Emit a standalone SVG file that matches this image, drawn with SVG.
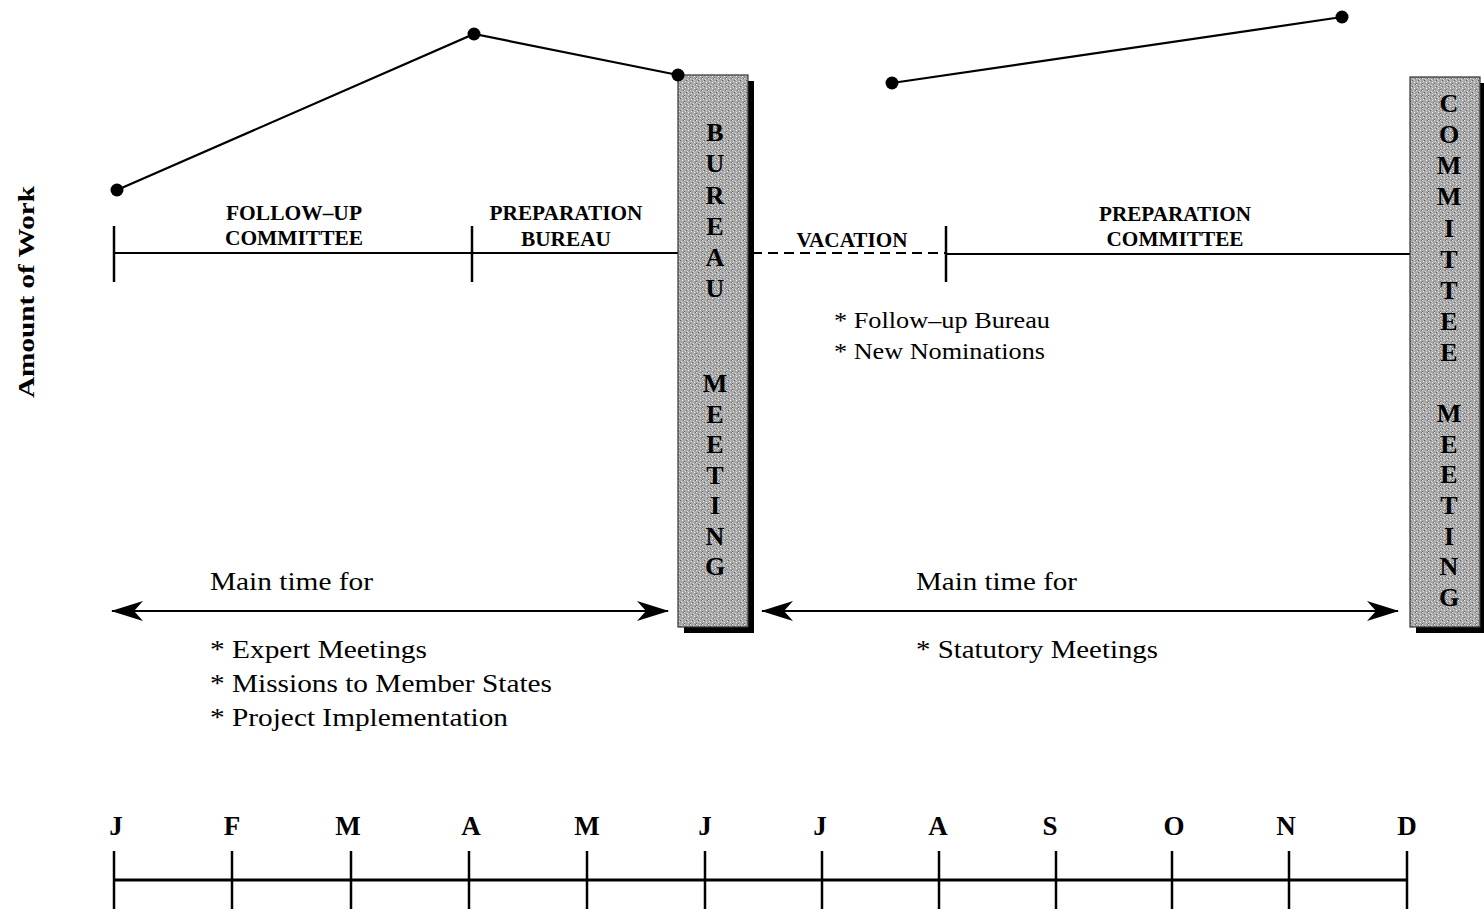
<svg xmlns="http://www.w3.org/2000/svg" width="1484" height="922" viewBox="0 0 1484 922">
<style>
.ln{stroke:#000;stroke-width:2.2;fill:none}
.tk{stroke:#000;stroke-width:2.5}
.dot{fill:#000}
.lab{font-family:"Liberation Serif","Times New Roman",serif;font-weight:bold;font-size:20px;fill:#000;text-anchor:middle}
.mon{font-family:"Liberation Serif","Times New Roman",serif;font-weight:bold;font-size:27px;fill:#000;text-anchor:middle}
.txt{font-family:"Liberation Serif","Times New Roman",serif;font-size:26px;fill:#000}
.vl{font-family:"Liberation Serif","Times New Roman",serif;font-weight:bold;font-size:26px;fill:#000;text-anchor:middle}
.box{fill:url(#stip);stroke:#333;stroke-width:1.2}
.shd{fill:#000}
</style>
<defs>
<pattern id="stip" width="6" height="6" patternUnits="userSpaceOnUse">
<rect width="6" height="6" fill="#a8a8a8"/>
<rect x="0" y="0" width="1" height="1" fill="#ececec"/>
<rect x="3" y="1" width="1" height="1" fill="#dcdcdc"/>
<rect x="1" y="3" width="1" height="1" fill="#e4e4e4"/>
<rect x="4" y="4" width="1" height="1" fill="#f2f2f2"/>
<rect x="2" y="2" width="1" height="1" fill="#606060"/>
<rect x="5" y="0" width="1" height="1" fill="#707070"/>
<rect x="0" y="5" width="1" height="1" fill="#6a6a6a"/>
<rect x="4" y="2" width="1" height="1" fill="#cccccc"/>
</pattern>
<marker id="ah" viewBox="0 0 32 20" refX="31" refY="10" markerWidth="32" markerHeight="20" orient="auto-start-reverse" markerUnits="userSpaceOnUse">
<path d="M0,0 L32,10 L0,20 L9,10 Z" fill="#000"/>
</marker>
</defs>

<g id="axis-label">
<text class="lab" transform="translate(34,292) rotate(-90)" textLength="212" lengthAdjust="spacingAndGlyphs" style="font-size:24px">Amount of Work</text>
</g>

<g id="connectors">
<polyline class="ln" points="117,190 474,34 678,75"/>
<line class="ln" x1="892" y1="83" x2="1342" y2="17"/>
<line class="ln" x1="114" y1="253" x2="678" y2="253"/>
<line class="ln" x1="752" y1="253" x2="946" y2="253" stroke-dasharray="10,6"/>
<line class="ln" x1="946" y1="254" x2="1410" y2="254"/>
<line class="tk" x1="114" y1="226" x2="114" y2="282"/>
<line class="tk" x1="472" y1="226" x2="472" y2="282"/>
<line class="tk" x1="946" y1="226" x2="946" y2="282"/>
<line class="ln" x1="112" y1="611" x2="668" y2="611" marker-start="url(#ah)" marker-end="url(#ah)"/>
<line class="ln" x1="762" y1="611" x2="1398" y2="611" marker-start="url(#ah)" marker-end="url(#ah)"/>
<line class="ln" x1="114" y1="880" x2="1407" y2="880" style="stroke-width:3"/>
<g class="tk">
<line x1="114" y1="851" x2="114" y2="909"/>
<line x1="232" y1="851" x2="232" y2="909"/>
<line x1="351" y1="851" x2="351" y2="909"/>
<line x1="469" y1="851" x2="469" y2="909"/>
<line x1="587" y1="851" x2="587" y2="909"/>
<line x1="705" y1="851" x2="705" y2="909"/>
<line x1="822" y1="851" x2="822" y2="909"/>
<line x1="939" y1="851" x2="939" y2="909"/>
<line x1="1056" y1="851" x2="1056" y2="909"/>
<line x1="1172" y1="851" x2="1172" y2="909"/>
<line x1="1289" y1="851" x2="1289" y2="909"/>
<line x1="1407" y1="851" x2="1407" y2="909"/>
</g>
</g>

<g id="phase-labels">
<text class="lab" x="294" y="220" textLength="136" lengthAdjust="spacingAndGlyphs">FOLLOW–UP</text>
<text class="lab" x="294" y="245" textLength="138" lengthAdjust="spacingAndGlyphs">COMMITTEE</text>
<text class="lab" x="566" y="220" textLength="153" lengthAdjust="spacingAndGlyphs">PREPARATION</text>
<text class="lab" x="566" y="246" textLength="90" lengthAdjust="spacingAndGlyphs">BUREAU</text>
<text class="lab" x="852" y="247" textLength="111" lengthAdjust="spacingAndGlyphs">VACATION</text>
<text class="lab" x="1175" y="221" textLength="152" lengthAdjust="spacingAndGlyphs">PREPARATION</text>
<text class="lab" x="1175" y="246" textLength="137" lengthAdjust="spacingAndGlyphs">COMMITTEE</text>
</g>

<g id="bureau-meeting">
<rect class="shd" x="748" y="81" width="6" height="552"/>
<rect class="shd" x="684" y="627" width="70" height="6"/>
<rect class="box" x="678" y="75" width="70" height="552"/>
<text class="vl" x="715" y="141">B</text>
<text class="vl" x="715" y="172">U</text>
<text class="vl" x="715" y="204">R</text>
<text class="vl" x="715" y="235">E</text>
<text class="vl" x="715" y="266">A</text>
<text class="vl" x="715" y="297">U</text>
<text class="vl" x="715" y="392">M</text>
<text class="vl" x="715" y="423">E</text>
<text class="vl" x="715" y="453">E</text>
<text class="vl" x="715" y="484">T</text>
<text class="vl" x="715" y="514">I</text>
<text class="vl" x="715" y="545">N</text>
<text class="vl" x="715" y="575">G</text>
</g>

<g id="committee-meeting">
<rect class="shd" x="1480" y="83" width="4" height="550"/>
<rect class="shd" x="1416" y="627" width="68" height="6"/>
<rect class="box" x="1410" y="77" width="70" height="550"/>
<text class="vl" x="1449" y="112">C</text>
<text class="vl" x="1449" y="143">O</text>
<text class="vl" x="1449" y="174">M</text>
<text class="vl" x="1449" y="205">M</text>
<text class="vl" x="1449" y="237">I</text>
<text class="vl" x="1449" y="268">T</text>
<text class="vl" x="1449" y="299">T</text>
<text class="vl" x="1449" y="330">E</text>
<text class="vl" x="1449" y="361">E</text>
<text class="vl" x="1449" y="422">M</text>
<text class="vl" x="1449" y="453">E</text>
<text class="vl" x="1449" y="483">E</text>
<text class="vl" x="1449" y="514">T</text>
<text class="vl" x="1449" y="545">I</text>
<text class="vl" x="1449" y="575">N</text>
<text class="vl" x="1449" y="606">G</text>
</g>

<g id="work-points">
<circle class="dot" cx="117" cy="190" r="6.5"/>
<circle class="dot" cx="474" cy="34" r="6.5"/>
<circle class="dot" cx="678" cy="75" r="6.5"/>
<circle class="dot" cx="892" cy="83" r="6.5"/>
<circle class="dot" cx="1342" cy="17" r="6.5"/>
</g>

<g id="notes-vacation">
<text class="txt" x="834" y="328" textLength="216" lengthAdjust="spacingAndGlyphs" style="font-size:24px">* Follow–up Bureau</text>
<text class="txt" x="834" y="359" textLength="211" lengthAdjust="spacingAndGlyphs" style="font-size:24px">* New Nominations</text>
</g>

<g id="notes-first-half">
<text class="txt" x="210" y="590" textLength="163" lengthAdjust="spacingAndGlyphs">Main time for</text>
<text class="txt" x="210" y="658" textLength="217" lengthAdjust="spacingAndGlyphs">* Expert Meetings</text>
<text class="txt" x="210" y="692" textLength="342" lengthAdjust="spacingAndGlyphs">* Missions to Member States</text>
<text class="txt" x="210" y="726" textLength="298" lengthAdjust="spacingAndGlyphs">* Project Implementation</text>
</g>

<g id="notes-second-half">
<text class="txt" x="916" y="590" textLength="161" lengthAdjust="spacingAndGlyphs">Main time for</text>
<text class="txt" x="916" y="658" textLength="242" lengthAdjust="spacingAndGlyphs">* Statutory Meetings</text>
</g>

<g id="months">
<text class="mon" x="116" y="835">J</text>
<text class="mon" x="232" y="835">F</text>
<text class="mon" x="348" y="835">M</text>
<text class="mon" x="471" y="835">A</text>
<text class="mon" x="587" y="835">M</text>
<text class="mon" x="705" y="835">J</text>
<text class="mon" x="820" y="835">J</text>
<text class="mon" x="938" y="835">A</text>
<text class="mon" x="1050" y="835">S</text>
<text class="mon" x="1174" y="835">O</text>
<text class="mon" x="1286" y="835">N</text>
<text class="mon" x="1407" y="835">D</text>
</g>
</svg>
